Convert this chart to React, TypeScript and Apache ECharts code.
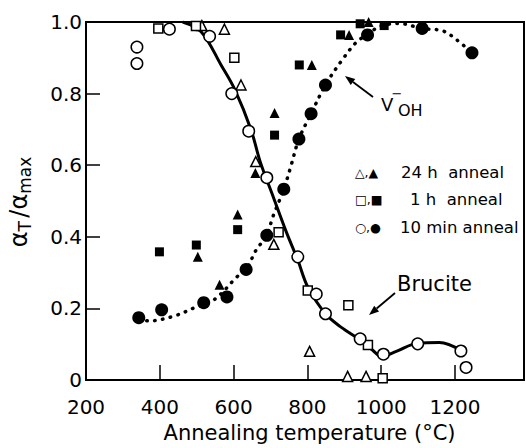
import React, { useEffect, useRef } from 'react';
import * as echarts from 'echarts';

// ---- data (annealing temperature °C, normalized absorption) ----
const bruciteCurve: [number, number][] = [
  [462, 1.0], [512, 0.973], [566, 0.88], [604, 0.81], [647, 0.70], [672, 0.61],
  [708, 0.51], [743, 0.413], [774, 0.335], [801, 0.26], [849, 0.185], [892, 0.147],
  [943, 0.112], [977, 0.083], [1000, 0.066], [1041, 0.08], [1099, 0.103],
  [1158, 0.105], [1216, 0.083],
];
const vohCurve: [number, number][] = [
  [343, 0.17], [371, 0.165], [440, 0.179], [494, 0.202], [548, 0.225], [611, 0.29],
  [634, 0.309], [661, 0.363], [690, 0.404], [706, 0.455], [736, 0.533], [756, 0.60],
  [777, 0.673], [810, 0.744], [849, 0.824], [895, 0.895], [935, 0.946], [963, 0.964],
  [994, 0.987], [1048, 0.996], [1111, 0.982], [1167, 0.975], [1205, 0.95], [1246, 0.914],
];
const open24h: [number, number][] = [
  [514, 0.99], [575, 0.98], [620, 0.824], [660, 0.61], [709, 0.379], [806, 0.08],
  [909, 0.01], [959, 0.01],
];
const filled24h: [number, number][] = [
  [503, 0.344], [562, 0.266], [611, 0.462], [659, 0.578], [711, 0.746], [812, 0.88],
  [913, 0.964], [966, 1.0],
];
const open1h: [number, number][] = [
  [396, 0.982], [498, 0.989], [602, 0.90], [722, 0.413], [801, 0.25], [911, 0.209],
  [964, 0.098], [1004, 0.005],
];
const filled1h: [number, number][] = [
  [399, 0.358], [499, 0.377], [611, 0.42], [711, 0.684], [778, 0.88], [890, 0.964],
  [943, 0.995], [1008, 0.99],
];
const open10min: [number, number][] = [
  [338, 0.93], [338, 0.884], [426, 0.98], [535, 0.96], [595, 0.80], [641, 0.695],
  [690, 0.565], [774, 0.344], [824, 0.24], [849, 0.185], [943, 0.115], [1006, 0.072],
  [1099, 0.101], [1216, 0.081], [1230, 0.035],
];
const filled10min: [number, number][] = [
  [343, 0.174], [405, 0.196], [519, 0.216], [582, 0.232], [634, 0.309], [690, 0.404],
  [736, 0.533], [777, 0.673], [810, 0.744], [849, 0.824], [963, 0.964], [1111, 0.982],
  [1246, 0.914],
];
const legendRows = [
  { sym: '△,▲', text: '24 h  anneal' },
  { sym: '□,■', text: '1 h  anneal' },
  { sym: '○,●', text: '10 min anneal' },
];
const xAxisTitle = 'Annealing temperature (°C)';

const FONT = 'DejaVu Sans';

const openStyle = { color: '#fff', borderColor: '#000', borderWidth: 1.5, opacity: 1 };
const filledStyle = { color: '#000', borderColor: '#000', borderWidth: 0, opacity: 1 };

function scatter(name: string, data: [number, number][], symbol: string, size: number, filled: boolean) {
  return {
    name,
    type: 'scatter',
    data,
    symbol,
    symbolSize: size,
    itemStyle: filled ? filledStyle : openStyle,
    z: 5,
    clip: false,
  };
}

function arrow(tail: [number, number], tip: [number, number]) {
  const dx = tip[0] - tail[0];
  const dy = tip[1] - tail[1];
  const len = Math.sqrt(dx * dx + dy * dy);
  const ux = dx / len, uy = dy / len;
  const hl = 10, hw = 3.8;
  const bx = tip[0] - ux * hl, by = tip[1] - uy * hl;
  const px = -uy * hw, py = ux * hw;
  return [
    { type: 'line', shape: { x1: tail[0], y1: tail[1], x2: bx, y2: by }, style: { stroke: '#000', lineWidth: 1.8 } },
    { type: 'polygon', shape: { points: [[tip[0], tip[1]], [bx + px, by + py], [bx - px, by - py]] }, style: { fill: '#000' } },
  ];
}

export default function App() {
  const ref = useRef<HTMLDivElement>(null);
  useEffect(() => {
    const chart = echarts.init(ref.current!, null, { renderer: 'svg' });
    const legendY = [172, 199, 227];
    const legendX = [401, 410, 400];
    const graphic: any[] = [
      // y axis title
      {
        type: 'text',
        x: 19,
        y: 202,
        rotation: Math.PI / 2,
        style: {
          text: '{a|α}{s|T} {a|/α}{s|max}',
          align: 'center',
          verticalAlign: 'middle',
          fill: '#000',
          rich: {
            a: { fontSize: 24, fontFamily: FONT, lineHeight: 28, verticalAlign: 'middle', fill: '#000' },
            s: { fontSize: 17, fontFamily: FONT, lineHeight: 17, verticalAlign: 'bottom', fill: '#000' },
          },
        },
      },
      // V_OH label
      { type: 'text', x: 381, y: 104, style: { text: 'V', fontSize: 18, fontFamily: FONT, fill: '#000', align: 'left', verticalAlign: 'middle' } },
      { type: 'text', x: 398, y: 110, style: { text: 'OH', fontSize: 16, fontFamily: FONT, fill: '#000', align: 'left', verticalAlign: 'middle' } },
      { type: 'text', x: 397, y: 93, style: { text: '−', fontSize: 13, fontFamily: FONT, fill: '#000', align: 'center', verticalAlign: 'middle' } },
      // Brucite label
      { type: 'text', x: 397, y: 284, style: { text: 'Brucite', fontSize: 21, fontFamily: FONT, fill: '#000', align: 'left', verticalAlign: 'middle' } },
      ...arrow([373, 97], [345, 76]),
      ...arrow([395, 293], [369, 315]),
    ];
    legendRows.forEach((r, i) => {
      graphic.push({
        type: 'text', x: 355, y: legendY[i],
        style: { text: r.sym, fontSize: 12.5, fontFamily: FONT, fill: '#000', align: 'left', verticalAlign: 'middle' },
      });
      graphic.push({
        type: 'text', x: legendX[i], y: legendY[i],
        style: { text: r.text, fontSize: 16.5, fontFamily: FONT, fill: '#000', align: 'left', verticalAlign: 'middle' },
      });
    });

    const option: any = {
      animation: false,
      backgroundColor: '#fff',
      grid: { left: 86, right: 2, top: 22, bottom: 63, show: true, borderColor: '#000', borderWidth: 2 },
      xAxis: {
        type: 'value',
        min: 200,
        max: 1387,
        interval: 200,
        axisLine: { show: true, lineStyle: { color: '#000', width: 2 } },
        axisTick: { show: true, inside: true, length: 15, lineStyle: { color: '#000', width: 1.5 } },
        axisLabel: {
          color: '#000', fontSize: 20, fontFamily: FONT, margin: 17, showMaxLabel: false,
          formatter: (v: number) => (v % 200 === 0 ? String(v) : ''),
        },
        splitLine: { show: false },
        name: xAxisTitle,
        nameLocation: 'middle',
        nameGap: 42,
        nameTextStyle: { color: '#000', fontSize: 21, fontFamily: FONT, padding: [0, 0, 0, 9] },
      },
      yAxis: {
        type: 'value',
        min: 0,
        max: 1,
        interval: 0.2,
        axisLine: { show: true, lineStyle: { color: '#000', width: 2 } },
        axisTick: { show: true, inside: true, length: 14, lineStyle: { color: '#000', width: 1.5 } },
        axisLabel: {
          color: '#000', fontSize: 20, fontFamily: FONT, margin: 4,
          formatter: (v: number) => (v === 0 ? '0' : v.toFixed(1)),
        },
        splitLine: { show: false },
      },
      series: [
        {
          name: 'Brucite', type: 'line', data: bruciteCurve, smooth: 0.35, showSymbol: false,
          lineStyle: { color: '#000', width: 3 }, z: 2,
        },
        {
          name: 'VOH', type: 'line', data: vohCurve, smooth: 0.35, showSymbol: false,
          lineStyle: { color: '#000', width: 3.5, type: [0.5, 7.5], cap: 'round' }, z: 2,
        },
        scatter('24 h open', open24h, 'triangle', 10, false),
        scatter('24 h filled', filled24h, 'triangle', 10, true),
        scatter('1 h open', open1h, 'rect', 9, false),
        scatter('1 h filled', filled1h, 'rect', 9, true),
        scatter('10 min open', open10min, 'circle', 11.5, false),
        scatter('10 min filled', filled10min, 'circle', 13, true),
      ],
      graphic,
    };
    chart.setOption(option);
    return () => chart.dispose();
  }, []);
  return <div ref={ref} style={{ position: 'fixed', left: 0, top: 0, width: 526, height: 448 }} />;
}
